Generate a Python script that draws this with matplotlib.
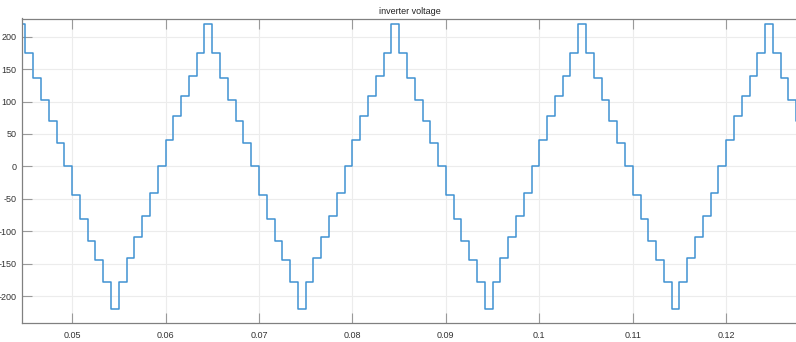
import numpy as np
import matplotlib
matplotlib.use("Agg")
import matplotlib.pyplot as plt

# One fundamental period (0.02 s) of the multilevel inverter output,
# 24 steps, starting at t = 0.05 s (levels)
period_levels = [-44, -81, -115, -145, -178, -220, -178, -142, -109, -76, -41, 0,
                 41, 77, 108, 139, 175, 220, 175, 137, 103, 70, 36, 0]
step_dt = 0.02 / 24
t_ref = 0.05
t_start, t_end = 0.04417, 0.12833

xticks = [0.05, 0.06, 0.07, 0.08, 0.09, 0.1, 0.11, 0.12]
xticklabels = ["0.05", "0.06", "0.07", "0.08", "0.09", "0.1", "0.11", "0.12"]
yticks = [-200, -150, -100, -50, 0, 50, 100, 150, 200]
yticklabels = ["-200", "-150", "-100", "-50", "0", "50", "100", "150", "200"]
title = "inverter voltage"

k0 = int(round((t_start - t_ref) / step_dt))
k1 = int(round((t_end - t_ref) / step_dt))
ks = np.arange(k0, k1 + 1)
t = t_ref + ks * step_dt
v = np.array([period_levels[k % 24] for k in ks])

fam = ["Liberation Sans Narrow", "Liberation Sans", "DejaVu Sans"]
plt.rcParams["font.family"] = fam

fig = plt.figure(figsize=(7.96, 3.42), dpi=100)
ax = fig.add_axes([22 / 796, 19 / 342, 1 - 22 / 796 + 0.002, (323 - 18.5) / 342])
ax.step(t, v, where="post", color="#4092d2", lw=1.1)

ax.set_xlim(0.04464, 0.12764)
ax.set_ylim(-241.5, 228)
ax.set_xticks(xticks)
ax.set_xticklabels(xticklabels)
ax.set_yticks(yticks)
ax.set_yticklabels(yticklabels)
ax.grid(True, color="#ececec", lw=0.8)
ax.set_axisbelow(True)
ax.tick_params(axis="both", direction="in", length=7, width=0.8, color="#9a9a9a",
               labelsize=6.5, labelcolor="#333333", top=True, right=False)
ax.tick_params(axis="x", pad=6)
ax.tick_params(axis="y", pad=4)
for s in ["left", "bottom", "top"]:
    ax.spines[s].set_color("#808080")
    ax.spines[s].set_linewidth(0.9)
ax.spines["right"].set_visible(False)
ax.set_title(title, fontsize=6.5, color="#222222", pad=3)

fig.savefig("out.png", dpi=100)
